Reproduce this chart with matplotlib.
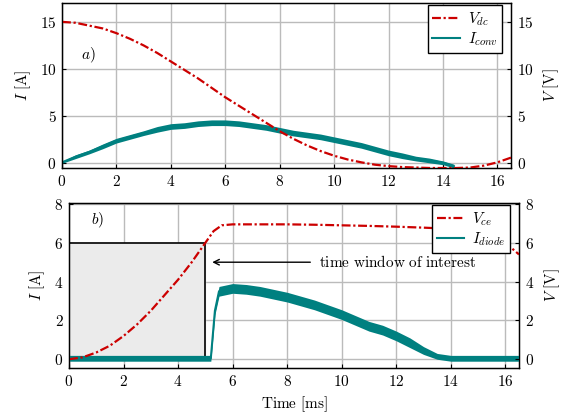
import matplotlib
matplotlib.use("Agg")
import matplotlib.pyplot as plt
from matplotlib.ticker import FuncFormatter

plt.rcParams["mathtext.fontset"] = "cm"
plt.rcParams["font.family"] = "serif"
plt.rcParams["font.serif"] = ["DejaVu Serif"]

# a) DC link voltage and converter current
t_a = [0, 0.5, 1, 1.5, 2, 2.5, 3, 3.5, 4, 4.5, 5, 5.5, 6, 6.5, 7, 7.5, 8, 8.5, 9, 9.5,
       10, 10.5, 11, 11.5, 12, 12.5, 13, 13.5, 14, 14.5, 15, 15.5, 16, 16.5]
v_dc = [15.0, 14.9, 14.6, 14.3, 13.8, 13.2, 12.5, 11.7, 10.8, 9.9, 9.0, 8.0, 7.0, 6.1, 5.2,
        4.3, 3.4, 2.6, 1.9, 1.3, 0.8, 0.4, 0.1, -0.15, -0.3, -0.4, -0.45, -0.5, -0.5, -0.5,
        -0.45, -0.25, 0.1, 0.6]
t_conv = [0, 0.5, 1, 1.5, 2, 2.5, 3, 3.5, 4, 4.5, 5, 5.5, 6, 6.5, 7, 7.5, 8, 8.5, 9, 9.5,
          10, 10.5, 11, 11.5, 12, 12.5, 13, 13.5, 14, 14.4]
i_conv = [0.1, 0.7, 1.2, 1.8, 2.4, 2.8, 3.2, 3.6, 3.9, 4.0, 4.2, 4.3, 4.3, 4.2, 4.0, 3.8,
          3.5, 3.2, 3.0, 2.8, 2.5, 2.2, 1.9, 1.5, 1.1, 0.8, 0.5, 0.3, 0.05, -0.3]
conv_spread = [0.1, 0.2, 0.2, 0.25, 0.25, 0.25, 0.25, 0.3, 0.3, 0.3, 0.3, 0.3, 0.3, 0.3,
               0.3, 0.3, 0.3, 0.3, 0.3, 0.3, 0.3, 0.3, 0.3, 0.3, 0.3, 0.3, 0.25, 0.25, 0.2, 0.2]

# b) collector-emitter voltage and diode current
t_ce = [0, 0.5, 1, 1.5, 2, 2.5, 3, 3.5, 4, 4.5, 5, 5.3, 5.6, 6, 7, 8, 9, 10, 11, 12, 13,
        14, 15, 15.5, 16, 16.5]
v_ce = [0.0, 0.1, 0.35, 0.7, 1.2, 1.8, 2.5, 3.3, 4.1, 5.0, 6.0, 6.6, 6.9, 6.95, 6.95, 6.95,
        6.93, 6.9, 6.87, 6.83, 6.78, 6.72, 6.6, 6.45, 6.0, 5.4]
t_diode = [0, 1, 2, 3, 4, 5, 5.2, 5.35, 5.5, 6, 6.5, 7, 7.5, 8, 8.5, 9, 9.5, 10, 10.5, 11,
           11.5, 12, 12.5, 13, 13.5, 14, 15, 16, 16.5]
i_diode = [0.05, 0.05, 0.05, 0.05, 0.05, 0.05, 0.05, 2.5, 3.5, 3.65, 3.6, 3.5, 3.35, 3.2, 3.0,
           2.8, 2.55, 2.3, 2.0, 1.7, 1.5, 1.2, 0.85, 0.45, 0.15, 0.05, 0.05, 0.05, 0.05]
diode_spread = [0.15, 0.15, 0.15, 0.15, 0.15, 0.15, 0.15, 0.2, 0.25, 0.25, 0.25, 0.25, 0.25,
                0.25, 0.25, 0.25, 0.25, 0.25, 0.25, 0.25, 0.25, 0.25, 0.25, 0.2, 0.15, 0.15,
                0.15, 0.15, 0.15]

t_window = 5.0
window_top = 6.0

red = "#cc0000"
teal = "#008080"
fs = 11

W, H = 571, 417
fig = plt.figure(figsize=(W / 100, H / 100), dpi=100)
ax1 = fig.add_axes([62 / W, 1 - 168 / H, 449 / W, 165 / H])
ax2 = fig.add_axes([69 / W, 1 - 368 / H, 450 / W, 165 / H])

yfmt = FuncFormatter(lambda v, p: f"${v:g}$")
xfmt = FuncFormatter(lambda v, p: r"$\mathbf{%g}$" % v)


def style(ax, ylim, yticks):
    ax.set_xlim(0, 16.5)
    ax.set_ylim(*ylim)
    ax.set_xticks(range(0, 17, 2))
    ax.set_yticks(yticks)
    ax.xaxis.set_major_formatter(xfmt)
    ax.yaxis.set_major_formatter(yfmt)
    ax.grid(True, color="#bbbbbb", lw=1.0)
    ax.set_axisbelow(True)
    ax.tick_params(direction="in", labelsize=fs, length=3, pad=4)
    for s in ax.spines.values():
        s.set_linewidth(1.0)
    twin = ax.twinx()
    twin.set_ylim(*ylim)
    twin.set_yticks(yticks)
    twin.yaxis.set_major_formatter(yfmt)
    twin.tick_params(direction="in", labelsize=fs, length=3, pad=4)
    twin.set_ylabel(r"$V\ \mathrm{[V]}$", fontsize=fs, labelpad=6)
    ax.set_ylabel(r"$I\ \mathrm{[A]}$", fontsize=fs, labelpad=5)
    return twin


def add_legend(ax):
    h, l = ax.get_legend_handles_labels()
    leg = ax.legend(h[::-1], l[::-1], loc="upper right", bbox_to_anchor=(0.98, 0.985),
                    fontsize=fs, fancybox=False, framealpha=1, edgecolor="black",
                    borderaxespad=0, handlelength=1.8, borderpad=0.3, labelspacing=0.2,
                    handletextpad=0.5)
    leg.get_frame().set_linewidth(1.0)


style(ax1, (-0.5, 17), [0, 5, 10, 15])
ax1.fill_between(t_conv, [a - s for a, s in zip(i_conv, conv_spread)],
                 [a + s for a, s in zip(i_conv, conv_spread)], color=teal, lw=0, zorder=2)
ax1.plot(t_conv, i_conv, color=teal, lw=1.5, label=r"$I_{conv}$", zorder=2)
ax1.plot(t_a, v_dc, color=red, lw=1.6, ls=(0, (4, 1.2, 1, 1.2)), label=r"$V_{dc}$", zorder=3)
ax1.text(0.7, 11.0, r"$a)$", fontsize=fs)
add_legend(ax1)

style(ax2, (-0.45, 8.05), [0, 2, 4, 6, 8])
ax2.fill_between([0, t_window], [0, 0], [window_top, window_top], color="#ebebeb", zorder=1)
ax2.plot([0, t_window, t_window, 0], [window_top, window_top, 0, 0], color="black", lw=1.2,
         zorder=2)
ax2.fill_between(t_diode, [a - s for a, s in zip(i_diode, diode_spread)],
                 [a + s for a, s in zip(i_diode, diode_spread)], color=teal, lw=0, zorder=3)
ax2.plot(t_diode, i_diode, color=teal, lw=1.5, label=r"$I_{diode}$", zorder=3)
ax2.plot(t_ce, v_ce, color=red, lw=1.6, ls=(0, (4, 1.2, 1, 1.2)), label=r"$V_{ce}$", zorder=4)
ax2.annotate("", xy=(5.15, 5.0), xytext=(8.95, 5.0),
             arrowprops=dict(arrowstyle="->", color="black", lw=1.0))
ax2.text(9.15, 5.0, r"$\mathrm{time\ window\ of\ interest}$", fontsize=fs, va="center")
ax2.text(0.8, 6.95, r"$b)$", fontsize=fs)
ax2.set_xlabel(r"$\mathrm{Time\ [ms]}$", fontsize=fs, labelpad=4)
add_legend(ax2)

fig.savefig("out.png", dpi=100)
